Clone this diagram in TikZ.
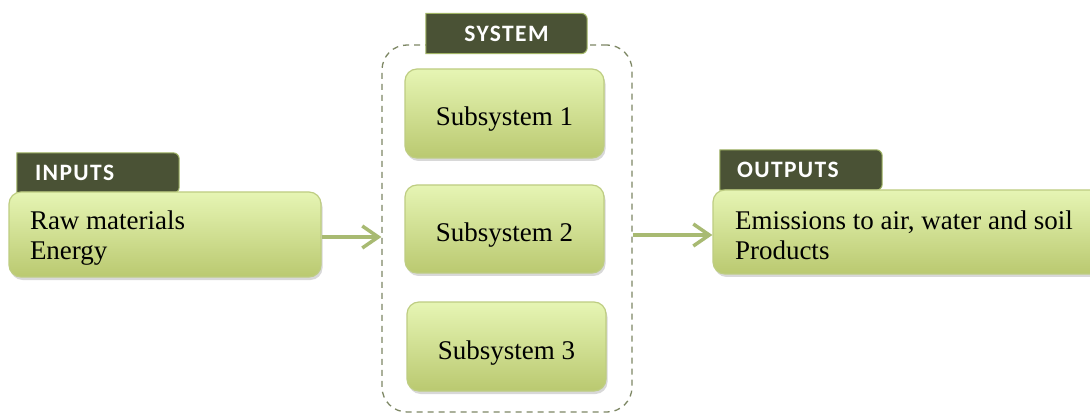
\documentclass[tikz,border=0pt]{standalone}
\usepackage{fontspec}
\setmainfont{Liberation Serif}
\newfontfamily\tabfont{Carlito}[LetterSpace=6]
\usetikzlibrary{arrows.meta,shadows}
\pgfdeclarelayer{bg}
\pgfsetlayers{bg,main}
\definecolor{tabdark}{RGB}{74,82,53}
\definecolor{tabedge}{RGB}{160,180,100}
\definecolor{boxtop}{RGB}{230,245,180}
\definecolor{boxbot}{RGB}{186,201,112}
\definecolor{boxedge}{RGB}{190,205,130}
\definecolor{arrowgreen}{RGB}{168,186,114}
\definecolor{dashgreen}{RGB}{125,135,100}
\tikzset{
  x=1pt, y=-1pt,
  greenbox/.style={draw=boxedge, line width=1.2pt, rounded corners=12pt,
    top color=boxtop, bottom color=boxbot,
    drop shadow={shadow xshift=1.5pt, shadow yshift=-3pt, opacity=0.25, fill=black!60},
    font=\fontsize{27}{30}\selectfont},
  subbox/.style={greenbox, minimum width=199pt, text height=27pt, text depth=2pt},
  tabbox/.style={minimum height=40pt, font=\tabfont\bfseries\fontsize{23.5}{26}\selectfont,
    text=white, inner ysep=0pt},
  tabfill/.style={fill=tabdark, draw=tabedge, line width=1pt},
  flow/.style={draw=arrowgreen, line width=4.5pt,
    -{Straight Barb[length=16pt,width=22pt,line width=3.5pt]}},
  sysframe/.style={draw=dashgreen, line width=1.3pt, dash pattern=on 6pt off 5pt,
    rounded corners=25pt, minimum width=250pt, minimum height=367pt},
}
\begin{document}
\begin{tikzpicture}
\clip (0,0) rectangle (1090,414);
\begin{pgfonlayer}{bg}
\fill[white] (0,0) rectangle (1090,414);
% system frame
\node[sysframe] (sys) at (507,228.5) {};
\end{pgfonlayer}

% tabs
\node[tabbox, text width=126pt, inner xsep=18pt, align=flush left] (tabIn) at (98,173) {INPUTS};
\node[tabbox, minimum width=161pt, align=center] (tabSys) at (506.5,33.5) {SYSTEM};
\node[tabbox, text width=128pt, inner xsep=17pt, align=flush left] (tabOut) at (801,170) {OUTPUTS};
\begin{pgfonlayer}{bg}
\foreach \t in {tabIn,tabSys,tabOut}{
  \path[tabfill] (\t.south west) -- (\t.north west)
     [rounded corners=6pt] -- (\t.north east) -- (\t.south east) [sharp corners] -- cycle;
}
\end{pgfonlayer}

% boxes
\node[greenbox, minimum width=312pt, minimum height=85pt, text width=270pt,
      inner xsep=21pt, align=flush left] (in) at (165,234.5) {\rule{0pt}{26pt}Raw materials\\Energy};
\node[greenbox, minimum width=389pt, minimum height=84pt, text width=345pt,
      inner xsep=22pt, align=flush left] (out) at (907.5,232) {\rule{0pt}{26pt}Emissions to air, water and soil\\Products};
\node[subbox, minimum height=89pt] (s1) at (504.5,113.5) {Subsystem 1};
\node[subbox, minimum height=88pt] (s2) at (504.5,229) {Subsystem 2};
\node[subbox, minimum height=89pt] (s3) at (506.5,346.5) {Subsystem 3};

% arrows
\draw[flow] ([yshift=-2.5pt]in.east) -- ([yshift=-2.5pt]in.east -| sys.west);
\draw[flow] ([yshift=-6.5pt]sys.east) -- ([yshift=-6.5pt]sys.east -| out.west);
\end{tikzpicture}
\end{document}
